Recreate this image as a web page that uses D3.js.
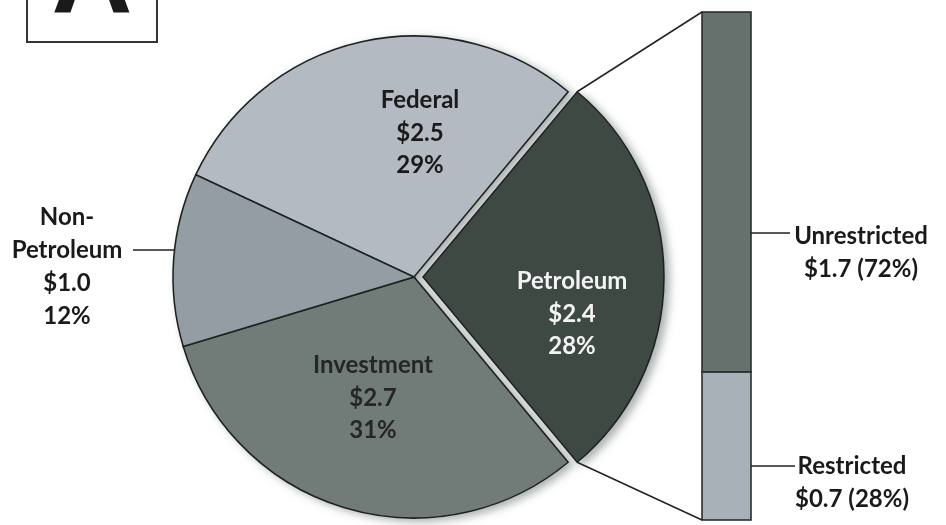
<!DOCTYPE html>
<html>
<head>
<meta charset="utf-8">
<script src="https://cdn.jsdelivr.net/npm/d3@7"></script>
<style>
  html, body { margin: 0; padding: 0; background: #ffffff; }
  svg { display: block; }
  text { font-family: Lato, "Open Sans", "DejaVu Sans", sans-serif; font-weight: bold; }
</style>
</head>
<body>
<svg id="chart" width="946" height="525"></svg>
<script>
// ---- data ----
const categories = ["Federal", "Petroleum", "Investment", "Non-Petroleum"];
const values = [2.5, 2.4, 2.7, 1.0];
const percents = [29, 28, 31, 12];
const barCategories = ["Restricted", "Unrestricted"];
const barValues = [0.7, 1.7];
const barPercents = [28, 72];
const panelLetter = "A";

// ---- styles ----
const pieColors = { "Federal": "#b4bac2", "Petroleum": "#3c4843", "Investment": "#717b78", "Non-Petroleum": "#959da4" };
const barColors = { "Restricted": "#a8b0b8", "Unrestricted": "#66716e" };
const labelColors = { "Federal": "#1a1a1a", "Petroleum": "#f4f4f4", "Investment": "#262626", "Non-Petroleum": "#1a1a1a" };
const FS = 24;

const svg = d3.select("#chart");

const defs = svg.append("defs");
const f = defs.append("filter").attr("id", "shadow").attr("x", "-10%").attr("y", "-10%").attr("width", "130%").attr("height", "130%");
f.append("feDropShadow").attr("dx", 5).attr("dy", 3).attr("stdDeviation", 4)
  .attr("flood-color", "#6a6f72").attr("flood-opacity", 0.55);

// panel letter box (cut off at the top, as in the reference)
svg.append("rect").attr("x", 27).attr("y", -20).attr("width", 130).attr("height", 62)
  .attr("fill", "#fff").attr("stroke", "#333").attr("stroke-width", 2);
svg.append("text").attr("x", 92).attr("y", 13).attr("text-anchor", "middle")
  .attr("font-size", 112).attr("fill", "#1a1a1a").style("font-family", "'Liberation Sans', Arial, sans-serif")
  .text(panelLetter);

// ---- pie ----
const cx = 414, cy = 277, R = 241;
const explode = 9;
const data = categories.map((c, i) => ({ name: c, value: values[i], pct: percents[i] }));
const total = d3.sum(values);
const splitIndex = categories.indexOf("Petroleum");
const before = d3.sum(values.slice(0, splitIndex));
const startA = Math.PI / 2 - (before + values[splitIndex] / 2) / total * 2 * Math.PI;
const pie = d3.pie().sort(null).value(d => d.value).startAngle(startA).endAngle(startA + 2 * Math.PI);
const arcs = pie(data);
const arc = d3.arc().innerRadius(0).outerRadius(R);

const pieG = svg.append("g").attr("transform", `translate(${cx},${cy})`).attr("filter", "url(#shadow)");
function offset(d) {
  if (d.data.name !== "Petroleum") return [0, 0];
  const m = (d.startAngle + d.endAngle) / 2;
  return [Math.sin(m) * explode, -Math.cos(m) * explode];
}
pieG.selectAll("path").data(arcs).join("path")
  .attr("transform", d => `translate(${offset(d)})`)
  .attr("d", arc)
  .attr("fill", d => pieColors[d.data.name])
  .attr("stroke", "#1f2422").attr("stroke-width", 1.6).attr("stroke-linejoin", "miter");

// labels inside pie
const labelPos = {
  "Federal": [420, 100],
  "Petroleum": [572, 281],
  "Investment": [373, 365]
};
const lh = 32.5;
data.forEach(d => {
  if (!labelPos[d.name]) return;
  const [x, y] = labelPos[d.name];
  const lines = [d.name, "$" + d.value.toFixed(1), d.pct + "%"];
  const t = svg.append("text").attr("text-anchor", "middle").attr("font-size", FS).attr("fill", labelColors[d.name]);
  lines.forEach((l, i) => t.append("tspan").attr("x", x).attr("y", y + i * lh).attr("dy", "0.35em").text(l));
});

// Non-Petroleum outside label
(function () {
  const d = data[categories.indexOf("Non-Petroleum")];
  const x = 67, y0 = 217;
  const lines = ["Non-", "Petroleum", "$" + d.value.toFixed(1), d.pct + "%"];
  const t = svg.append("text").attr("text-anchor", "middle").attr("font-size", FS).attr("fill", labelColors[d.name]);
  lines.forEach((l, i) => t.append("tspan").attr("x", x).attr("y", y0 + i * 33).attr("dy", "0.35em").text(l));
  const ly = y0 + 33;
  const edgeX = cx - Math.sqrt(R * R - (ly - cy) * (ly - cy));
  svg.append("line").attr("x1", 133).attr("x2", edgeX).attr("y1", ly).attr("y2", ly)
    .attr("stroke", "#222").attr("stroke-width", 1.5);
})();

// ---- bar of pie ----
const barX = 702, barW = 49, barTop = 12, barBottom = 520;
const barTotal = d3.sum(barValues);
const y = d3.scaleLinear().domain([0, barTotal]).range([barBottom, barTop]);
const stacked = [];
let acc = 0;
barCategories.forEach((c, i) => { stacked.push({ name: c, y0: acc, y1: acc + barValues[i], value: barValues[i], pct: barPercents[i] }); acc += barValues[i]; });

svg.append("g").selectAll("rect").data(stacked).join("rect")
  .attr("x", barX).attr("width", barW)
  .attr("y", d => y(d.y1)).attr("height", d => y(d.y0) - y(d.y1))
  .attr("fill", d => barColors[d.name])
  .attr("stroke", "#2a2f2d").attr("stroke-width", 1.6);

// connector lines from exploded slice corners to bar
const pet = arcs[splitIndex];
const [ox, oy] = offset(pet);
const p1 = [cx + ox + Math.sin(pet.startAngle) * R, cy + oy - Math.cos(pet.startAngle) * R];
const p2 = [cx + ox + Math.sin(pet.endAngle) * R, cy + oy - Math.cos(pet.endAngle) * R];
svg.append("line").attr("x1", p1[0]).attr("y1", p1[1]).attr("x2", barX).attr("y2", y(barTotal))
  .attr("stroke", "#222").attr("stroke-width", 1.5);
svg.append("line").attr("x1", p2[0]).attr("y1", p2[1]).attr("x2", barX).attr("y2", y(0))
  .attr("stroke", "#222").attr("stroke-width", 1.5);

// bar labels
const barLabel = {
  "Unrestricted": { ly: 233, lx2: 790, tx: 861, ty: 236 },
  "Restricted": { ly: 466, lx2: 795, tx: 852, ty: 466 }
};
stacked.forEach(d => {
  const L = barLabel[d.name];
  svg.append("line").attr("x1", barX + barW).attr("x2", L.lx2).attr("y1", L.ly).attr("y2", L.ly)
    .attr("stroke", "#222").attr("stroke-width", 1.5);
  const t = svg.append("text").attr("text-anchor", "middle").attr("font-size", FS).attr("fill", "#1a1a1a");
  [d.name, "$" + d.value.toFixed(1) + " (" + d.pct + "%)"].forEach((l, i) =>
    t.append("tspan").attr("x", L.tx).attr("y", L.ty + i * 33).attr("dy", "0.35em").text(l));
});
</script>
</body>
</html>
